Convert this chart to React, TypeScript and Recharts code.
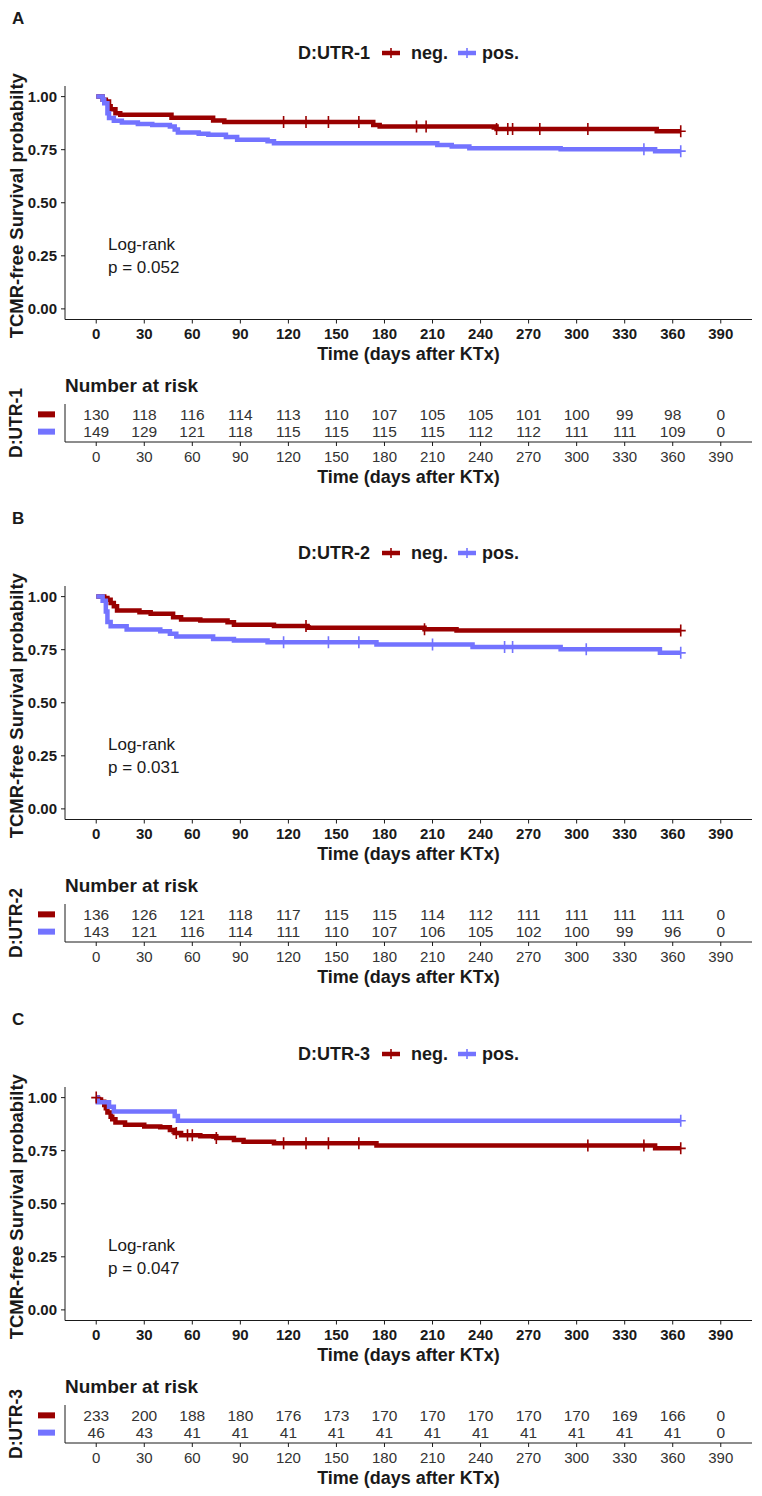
import React from 'react';
import { ComposedChart, Line, Scatter, ScatterChart, XAxis, YAxis, Label } from 'recharts';

// ---- shared axis values ----
const dayTicks = [0, 30, 60, 90, 120, 150, 180, 210, 240, 270, 300, 330, 360, 390];
const survTicks = [0, 0.25, 0.5, 0.75, 1];
const groupLabels = ['neg.', 'pos.'];

const NEG_COLOR = '#990000';
const POS_COLOR = '#7373FF';
const FONT = '"Liberation Sans", Arial, Helvetica, sans-serif';
const INK = '#1a1a1a';

type Pt = [number, number];

// ---- D:UTR-1 ----
const utr1Neg: Pt[] = [
  [0, 1], [4, 0.985], [6, 0.977], [8, 0.955], [9, 0.941], [12, 0.922], [15, 0.914],
  [47, 0.901], [73, 0.887], [80, 0.88], [173, 0.866], [177, 0.859], [250, 0.848],
  [350, 0.837], [365, 0.837],
];
const utr1Pos: Pt[] = [
  [0, 1], [4, 0.985], [5, 0.969], [7, 0.922], [8, 0.899], [11, 0.886], [16, 0.878],
  [26, 0.871], [35, 0.866], [46, 0.859], [49, 0.845], [51, 0.831], [64, 0.825],
  [70, 0.82], [81, 0.81], [88, 0.797], [107, 0.79], [111, 0.78], [213, 0.772],
  [222, 0.765], [233, 0.757], [290, 0.752], [349, 0.743], [365, 0.743],
];
const utr1NegCensor = [117, 131, 145, 164, 200, 206, 250, 257, 260, 277, 307, 365];
const utr1PosCensor = [342, 365];
const utr1RiskNeg = [130, 118, 116, 114, 113, 110, 107, 105, 105, 101, 100, 99, 98, 0];
const utr1RiskPos = [149, 129, 121, 118, 115, 115, 115, 115, 112, 112, 111, 111, 109, 0];

// ---- D:UTR-2 ----
const utr2Neg: Pt[] = [
  [0, 1], [5, 0.993], [7, 0.985], [9, 0.97], [11, 0.955], [13, 0.934], [27, 0.926],
  [34, 0.919], [48, 0.903], [53, 0.892], [65, 0.887], [82, 0.879], [86, 0.868],
  [111, 0.861], [132, 0.853], [205, 0.846], [225, 0.84], [365, 0.84],
];
const utr2Pos: Pt[] = [
  [0, 1], [4, 0.98], [6, 0.93], [7, 0.88], [9, 0.86], [19, 0.845], [40, 0.837],
  [46, 0.825], [50, 0.812], [73, 0.8], [86, 0.793], [107, 0.785], [175, 0.775],
  [235, 0.763], [290, 0.752], [352, 0.735], [365, 0.735],
];
const utr2NegCensor = [131, 205, 365];
const utr2PosCensor = [117, 145, 164, 210, 255, 260, 306, 365];
const utr2RiskNeg = [136, 126, 121, 118, 117, 115, 115, 114, 112, 111, 111, 111, 111, 0];
const utr2RiskPos = [143, 121, 116, 114, 111, 110, 107, 106, 105, 102, 100, 99, 96, 0];

// ---- D:UTR-3 ----
const utr3Neg: Pt[] = [
  [0, 1], [1, 0.991], [3, 0.98], [5, 0.965], [6, 0.95], [7, 0.93], [9, 0.91],
  [10, 0.898], [12, 0.883], [18, 0.872], [30, 0.864], [40, 0.86], [46, 0.848],
  [49, 0.833], [53, 0.823], [65, 0.818], [75, 0.81], [86, 0.8], [92, 0.792],
  [111, 0.785], [175, 0.775], [349, 0.761], [365, 0.761],
];
const utr3Pos: Pt[] = [
  [0, 1], [1, 0.978], [8, 0.957], [11, 0.935], [49, 0.913], [51, 0.891], [365, 0.891],
];
const utr3NegCensor = [0, 50, 57, 60, 75, 117, 131, 145, 164, 307, 342, 365];
const utr3PosCensor = [365];
const utr3RiskNeg = [233, 200, 188, 180, 176, 173, 170, 170, 170, 170, 170, 169, 166, 0];
const utr3RiskPos = [46, 43, 41, 41, 41, 41, 41, 41, 41, 41, 41, 41, 41, 0];

// ---- helpers ----
const toRows = (pts: Pt[]) => pts.map(([t, s]) => ({ t, s }));
const survAt = (pts: Pt[], t: number) => {
  let s = pts[0][1];
  for (const [pt, ps] of pts) {
    if (pt <= t) s = ps;
  }
  return s;
};
const censorRows = (pts: Pt[], times: number[]) => times.map((t) => ({ t, s: survAt(pts, t) }));

const makeCensorShape = (color: string) => (props: any) => {
  const { cx, cy } = props;
  if (cx == null || cy == null) return <g />;
  return (
    <g>
      <line x1={cx} y1={cy - 6} x2={cx} y2={cy + 6} stroke={color} strokeWidth={1.6} />
      <line x1={cx - 5} y1={cy} x2={cx + 5} y2={cy} stroke={color} strokeWidth={1.6} />
    </g>
  );
};

const LegendKey = ({ color }: { color: string }) => (
  <svg width={20} height={14} style={{ display: 'block' }}>
    <line x1={1} y1={7} x2={19} y2={7} stroke={color} strokeWidth={4.5} />
    <line x1={10} y1={2} x2={10} y2={12} stroke={color} strokeWidth={1.6} />
  </svg>
);

const CHART_W = 762;
const X_DOMAIN: [number, number] = [-19.5, 409.5];

type PanelProps = {
  top: number;
  letter: string;
  name: string;
  neg: Pt[];
  pos: Pt[];
  negCensor: number[];
  posCensor: number[];
  riskNeg: number[];
  riskPos: number[];
  pText: string;
};

const Panel = ({ top, letter, name, neg, pos, negCensor, posCensor, riskNeg, riskPos, pText }: PanelProps) => {
  const riskRows = [
    ...dayTicks.map((t, i) => ({ t, row: 1, n: riskNeg[i] })),
    ...dayTicks.map((t, i) => ({ t, row: 2, n: riskPos[i] })),
  ];
  return (
    <div style={{ position: 'absolute', left: 0, top, width: CHART_W, height: 500, fontFamily: FONT }}>
      <div style={{ position: 'absolute', left: 12, top: 9, fontSize: 17, fontWeight: 700, lineHeight: '20px', color: INK }}>
        {letter}
      </div>
      {/* legend */}
      <div
        style={{
          position: 'absolute', left: 65, top: 42, width: 687, height: 22,
          display: 'flex', justifyContent: 'center', alignItems: 'center',
          fontSize: 18, fontWeight: 700, color: INK,
        }}
      >
        <span style={{ marginRight: 11 }}>{name}</span>
        <LegendKey color={NEG_COLOR} />
        <span style={{ marginLeft: 10, marginRight: 9 }}>{groupLabels[0]}</span>
        <LegendKey color={POS_COLOR} />
        <span style={{ marginLeft: 5 }}>{groupLabels[1]}</span>
      </div>

      <div style={{ position: 'absolute', left: 0, top: 0 }}>
        <ComposedChart width={CHART_W} height={370} margin={{ top: 86, right: 10, bottom: 5, left: 0 }}>
          <XAxis
            type="number"
            dataKey="t"
            domain={X_DOMAIN}
            ticks={dayTicks}
            interval={0}
            allowDataOverflow
            height={45.5}
            tickSize={4}
            tickMargin={5}
            stroke={INK}
            tick={{ fill: INK, fontSize: 15, fontWeight: 700, fontFamily: FONT }}
          >
            <Label
              content={(p: any) => {
                const vb = p.viewBox;
                return (
                  <text x={vb.x + vb.width / 2} y={vb.y + 34} textAnchor="middle" dominantBaseline="central"
                    fontSize={18} fontWeight={700} fill={INK} fontFamily={FONT}>
                    Time (days after KTx)
                  </text>
                );
              }}
            />
          </XAxis>
          <YAxis
            type="number"
            domain={[-0.05, 1.05]}
            ticks={survTicks}
            interval={0}
            allowDataOverflow
            width={65}
            tickSize={4}
            tickMargin={4}
            stroke={INK}
            tickFormatter={(v: number) => v.toFixed(2)}
            tick={{ fill: INK, fontSize: 15, fontWeight: 700, fontFamily: FONT }}
          >
            <Label
              content={(p: any) => {
                const vb = p.viewBox;
                const cy = vb.y + vb.height / 2 + 3;
                return (
                  <text x={16} y={cy} transform={`rotate(-90 16 ${cy})`} textAnchor="middle" dominantBaseline="central"
                    fontSize={18.5} fontWeight={700} fill={INK} fontFamily={FONT}>
                    TCMR-free Survival probabilty
                  </text>
                );
              }}
            />
          </YAxis>
          <Line data={toRows(neg)} dataKey="s" type="stepAfter" stroke={NEG_COLOR} strokeWidth={4.5}
            dot={false} activeDot={false} isAnimationActive={false} />
          <Line data={toRows(pos)} dataKey="s" type="stepAfter" stroke={POS_COLOR} strokeWidth={4.5}
            dot={false} activeDot={false} isAnimationActive={false} />
          <Scatter data={censorRows(neg, negCensor)} dataKey="s" shape={makeCensorShape(NEG_COLOR)} isAnimationActive={false} />
          <Scatter data={censorRows(pos, posCensor)} dataKey="s" shape={makeCensorShape(POS_COLOR)} isAnimationActive={false} />
        </ComposedChart>
      </div>

      <div style={{ position: 'absolute', left: 108, top: 234, fontSize: 17, lineHeight: '22.6px', color: INK }}>
        Log-rank
        <br />
        {pText}
      </div>

      <div style={{ position: 'absolute', left: 65, top: 375, fontSize: 19, fontWeight: 700, lineHeight: '22px', color: INK }}>
        Number at risk
      </div>

      <div style={{ position: 'absolute', left: 0, top: 360 }}>
        <ScatterChart width={CHART_W} height={130} margin={{ top: 44, right: 10, bottom: 8, left: 0 }}>
          <XAxis
            type="number"
            dataKey="t"
            domain={X_DOMAIN}
            ticks={dayTicks}
            interval={0}
            allowDataOverflow
            height={40}
            tickSize={4}
            tickMargin={5}
            stroke={INK}
            tick={{ fill: '#333', fontSize: 15, fontFamily: FONT }}
          >
            <Label
              content={(p: any) => {
                const vb = p.viewBox;
                return (
                  <text x={vb.x + vb.width / 2} y={vb.y + 35} textAnchor="middle" dominantBaseline="central"
                    fontSize={18} fontWeight={700} fill={INK} fontFamily={FONT}>
                    Time (days after KTx)
                  </text>
                );
              }}
            />
          </XAxis>
          <YAxis
            type="number"
            dataKey="row"
            domain={[0.4, 2.6]}
            ticks={[1, 2]}
            interval={0}
            reversed
            width={65}
            tickLine={false}
            stroke={INK}
            tick={(p: any) => (
              <rect x={38} y={p.y - 3} width={17} height={6} fill={p.payload.value === 1 ? NEG_COLOR : POS_COLOR} />
            )}
          >
            <Label
              content={(p: any) => {
                const vb = p.viewBox;
                const cy = vb.y + vb.height / 2;
                return (
                  <text x={16} y={cy} transform={`rotate(-90 16 ${cy})`} textAnchor="middle" dominantBaseline="central"
                    fontSize={17.5} fontWeight={700} fill={INK} fontFamily={FONT}>
                    {name}
                  </text>
                );
              }}
            />
          </YAxis>
          <Scatter
            data={riskRows}
            dataKey="row"
            isAnimationActive={false}
            shape={(p: any) => (
              <text x={p.cx} y={p.cy} textAnchor="middle" dominantBaseline="central" fontSize={15.5} fill="#333" fontFamily={FONT}>
                {p.payload.n}
              </text>
            )}
          />
        </ScatterChart>
      </div>
    </div>
  );
};

export default function App() {
  return (
    <div style={{ position: 'absolute', left: 0, top: 0, width: 762, height: 1496, background: '#fff' }}>
      <Panel top={0} letter="A" name="D:UTR-1" neg={utr1Neg} pos={utr1Pos} negCensor={utr1NegCensor}
        posCensor={utr1PosCensor} riskNeg={utr1RiskNeg} riskPos={utr1RiskPos} pText="p = 0.052" />
      <Panel top={500} letter="B" name="D:UTR-2" neg={utr2Neg} pos={utr2Pos} negCensor={utr2NegCensor}
        posCensor={utr2PosCensor} riskNeg={utr2RiskNeg} riskPos={utr2RiskPos} pText="p = 0.031" />
      <Panel top={1001} letter="C" name="D:UTR-3" neg={utr3Neg} pos={utr3Pos} negCensor={utr3NegCensor}
        posCensor={utr3PosCensor} riskNeg={utr3RiskNeg} riskPos={utr3RiskPos} pText="p = 0.047" />
    </div>
  );
}
